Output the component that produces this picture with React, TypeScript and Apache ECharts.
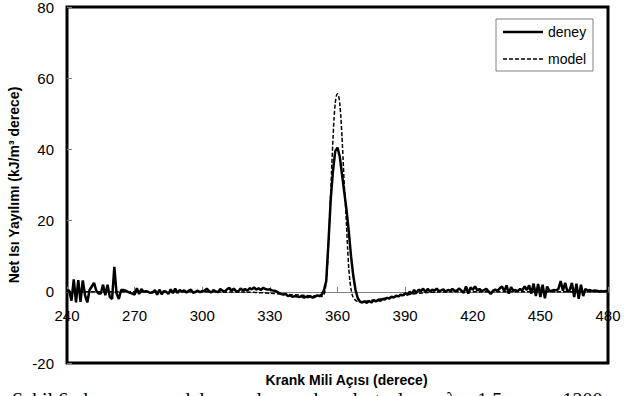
import React, { useEffect, useRef } from "react";
import * as echarts from "echarts";

// Crank angle (deg) of the first measured sample; samples every 1 deg up to 480
const deneyStartAngle = 240;
const deneyValues = [
  0.5, 0.3, -2.5, 3.5, -3, 3.3, -2.8, 3.2, -1, -3, // 240-249
  0.5, 1.5, 2.5, 0.3, -0.5, -0.5, 2, -1, 2, -1.5, // 250-259
  -2, 7, -0.5, -2, 0.5, 0.5, 0.3, 0, -0.3, -0.5, // 260-269
  -0.8, 1, -0.6, 0.8, 0, 0.2, 0, -0.3, -0.2, 0.5, // 270-279
  -0.8, 0.6, -0.7, 0.2, 0, -0.6, 0.7, -0.4, 0.9, -0.3, // 280-289
  0.5, 0.1, 0.4, -0.2, 0.3, 0.6, -0.3, 0, 0.3, -0.1, // 290-299
  0.2, 0.3, 0.9, 0.2, -0.2, 0.5, 0.1, -0.1, 0.8, 0.3, // 300-309
  0.1, 0.7, 1.1, 0.3, 0.9, 0.2, 0.1, 0.9, 0.4, 0.8, // 310-319
  0.3, 1, 0.7, 1.2, 0.6, 1.0, 0.5, 1.1, 0.8, 0.6, // 320-329
  0.7, 0.4, 0.3, 0.1, -0.3, -0.6, -0.8, -0.6, -1.2, -1, // 330-339
  -1.4, -1.2, -1.3, -1.5, -1.2, -1.6, -1.4, -1.5, -1.3, -1.6, // 340-349
  -1.4, -1.0, -1.2, -0.8, 0.5, 3, 14, 26, 34, 39.5, // 350-359
  40.5, 38, 33, 28, 23, 17, 10, 4.5, 0.5, -1.8, // 360-369
  -2.8, -3, -2.7, -3.1, -2.6, -3, -2.4, -2.7, -2.3, -2.5, // 370-379
  -2.0, -2.2, -1.7, -1.9, -1.4, -1.6, -1.1, -1.3, -0.8, -1.0, // 380-389
  -0.4, -0.8, 0, -0.5, 0.5, -0.3, 0.6, 0.2, 0.9, -0.1, // 390-399
  0.8, 0.1, 0.6, 0.3, 0.9, 0.2, 0.4, 0.7, 0, 0.5, // 400-409
  0.3, 0.8, 0.2, 0.4, 0.9, 0.3, -0.3, 1.5, -0.5, 1.2, // 410-419
  0.6, 1.5, 0.4, 0.8, 0.2, 0.5, 0.8, 0.1, -0.6, 0.3, // 420-429
  0.6, 0.2, 1.0, 1.5, 0.2, 1.8, -0.5, 1.3, 0.3, 0.5, // 430-439
  0.2, 0.8, 0.4, 1.5, 0.5, 1.8, -0.5, 2.3, -1.2, 2.2, // 440-449
  -1.5, 2, -1.8, 1.5, 0.2, 0.3, 0.5, 0.4, 0.8, 3, // 450-459
  0.3, 2.5, 0, 0.5, 2.5, -1.5, 2.3, -2, 2, -1.2, // 460-469
  0.8, 0.3, 0.5, 0.2, 0.4, 0.3, 0.1, 0.2, 0.1, 0.2, // 470-479
  0.1, // 480
];

const modelAngles = [
  240, 300, 320, 330, 340, 345, 350, 353, 354, 354.5, 355, 355.5, 356, 356.5,
  357, 357.5, 358, 358.5, 359, 359.5, 360, 360.5, 361, 361.5, 362, 362.5, 363,
  363.5, 364, 364.5, 365, 365.5, 366, 366.5, 367, 368, 369, 370, 372, 375, 380,
  385, 390, 395, 400, 405, 410, 480,
];
const modelValues = [
  0, 0, -0.1, -0.4, -0.8, -1.0, -1.2, -1.3, -0.8, 0.5, 3, 7, 13, 20,
  28, 36, 43, 49, 53, 55, 55.6, 55, 53, 49, 43.5, 37, 30,
  25, 18.5, 12, 6.5, 3, 0.8, -0.8, -1.6, -2.4, -2.7, -2.8, -2.7, -2.4, -1.9,
  -1.4, -0.9, -0.5, -0.2, -0.05, 0, 0,
];

const seriesNames = ["deney", "model"];
const xMin = 240;
const xMax = 480;
const xStep = 30;
const yMin = -20;
const yMax = 80;
const yStep = 20;

const xTitle = "Krank Mili Açısı (derece)";
const yTitle = "Net Isı Yayılımı (kJ/m³ derece)";
const caption = "Şekil 6. deney ve model sonuçlarının karşılaştırılması λ = 1.5 ve n = 1200";

export default function App() {
  const ref = useRef<HTMLDivElement>(null);

  useEffect(() => {
    if (!ref.current) return;
    const chart = echarts.init(ref.current, undefined, { renderer: "svg" });
    const deneyData = deneyValues.map((v, i) => [deneyStartAngle + i, v]);
    const modelData = modelAngles.map((a, i) => [a, modelValues[i]]);
    const font = "Arial, 'Liberation Sans', sans-serif";

    const gridTop = 7;
    const gridBottom = 33;
    const gridH = 396 - gridTop - gridBottom;
    // distance from plot bottom up to the zero line (x axis sits on y = 0)
    const zeroOffset = (gridH * (0 - yMin)) / (yMax - yMin);

    // legend box geometry
    const lgX = 496;
    const lgY = 19;
    const lgW = 97;
    const lgH = 52;

    chart.setOption({
      animation: false,
      backgroundColor: "#ffffff",
      grid: {
        left: 67,
        right: 23,
        top: gridTop,
        bottom: gridBottom,
        show: true,
        borderColor: "#000",
        borderWidth: 3,
        backgroundColor: "transparent",
        containLabel: false,
        outerBoundsMode: "none",
      },
      legend: { show: false },
      xAxis: {
        type: "value",
        position: "bottom",
        offset: -zeroOffset,
        min: xMin,
        max: xMax,
        interval: xStep,
        name: xTitle,
        nameLocation: "middle",
        nameGap: 81,
        nameTextStyle: {
          fontFamily: font,
          fontSize: 14,
          fontWeight: "bold",
          color: "#000",
          padding: [0, 0, 0, 18],
        },
        axisLine: { show: true, onZero: false, lineStyle: { color: "#808080", width: 1 } },
        axisTick: { show: true, inside: true, length: 5, lineStyle: { color: "#808080" } },
        axisLabel: { fontFamily: font, fontSize: 15, color: "#000", margin: 16 },
        splitLine: { show: false },
      },
      yAxis: {
        type: "value",
        min: yMin,
        max: yMax,
        interval: yStep,
        name: yTitle,
        nameLocation: "middle",
        nameGap: 37,
        nameTextStyle: {
          fontFamily: font,
          fontSize: 14,
          fontWeight: "bold",
          color: "#000",
        },
        axisLine: { show: false },
        axisTick: { show: true, inside: true, length: 5, lineStyle: { color: "#808080" } },
        axisLabel: { fontFamily: font, fontSize: 15, color: "#000", margin: 13 },
        splitLine: { show: false },
      },
      graphic: [
        {
          type: "rect",
          silent: true,
          z: 10,
          shape: { x: lgX, y: lgY, width: lgW, height: lgH },
          style: { fill: "#fff", stroke: "#808080", lineWidth: 1 },
        },
        {
          type: "line",
          silent: true,
          z: 11,
          shape: { x1: lgX + 7, y1: lgY + 13, x2: lgX + 47, y2: lgY + 13 },
          style: { stroke: "#000", lineWidth: 2.5 },
        },
        {
          type: "line",
          silent: true,
          z: 11,
          shape: { x1: lgX + 7, y1: lgY + 40, x2: lgX + 47, y2: lgY + 40 },
          style: { stroke: "#000", lineWidth: 1.5, lineDash: [4, 2] },
        },
        {
          type: "text",
          silent: true,
          z: 11,
          x: lgX + 52,
          y: lgY + 13,
          style: {
            text: seriesNames[0],
            font: "14px Arial, 'Liberation Sans', sans-serif",
            fill: "#000",
            verticalAlign: "middle",
          },
        },
        {
          type: "text",
          silent: true,
          z: 11,
          x: lgX + 52,
          y: lgY + 40,
          style: {
            text: seriesNames[1],
            font: "14px Arial, 'Liberation Sans', sans-serif",
            fill: "#000",
            verticalAlign: "middle",
          },
        },
        {
          type: "text",
          left: 12,
          top: 390,
          silent: true,
          style: {
            text: caption,
            font: "20px 'Liberation Serif', 'Times New Roman', serif",
            fill: "#000",
          },
        },
      ],
      series: [
        {
          name: seriesNames[0],
          type: "line",
          data: deneyData,
          symbol: "none",
          lineStyle: { color: "#000", width: 2.5, type: "solid" },
          itemStyle: { color: "#000" },
          z: 3,
        },
        {
          name: seriesNames[1],
          type: "line",
          data: modelData,
          symbol: "none",
          smooth: 0.2,
          lineStyle: { color: "#000", width: 1.5, type: [4, 2] },
          itemStyle: { color: "#000" },
          z: 4,
        },
      ],
    });

    return () => chart.dispose();
  }, []);

  return (
    <div
      ref={ref}
      style={{ position: "fixed", left: 0, top: 0, width: 631, height: 396 }}
    />
  );
}
